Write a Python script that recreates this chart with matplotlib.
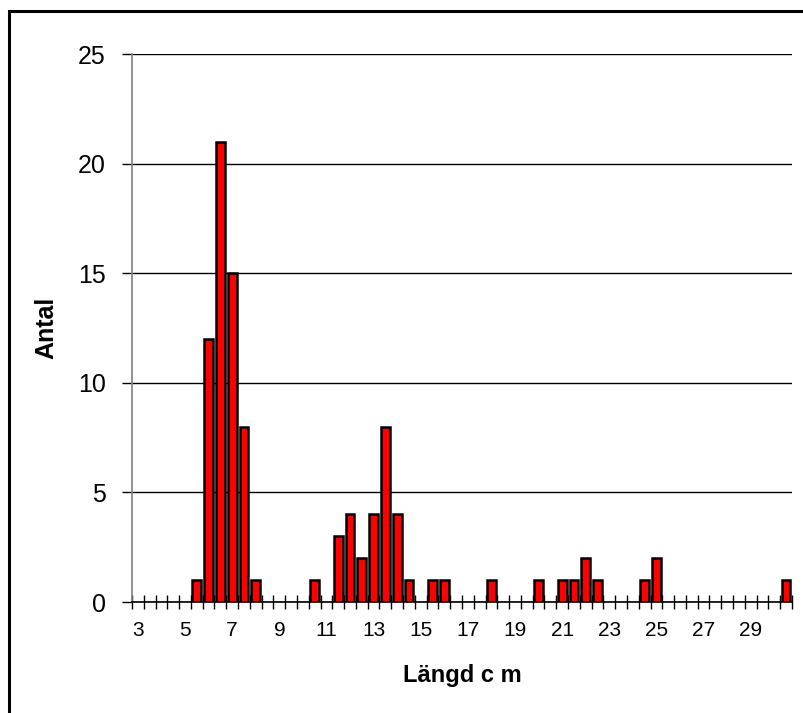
import numpy as np
import matplotlib.pyplot as plt
from matplotlib.patches import Rectangle

# length classes (cm) and counts
lengths = [5.5, 6, 6.5, 7, 7.5, 8, 10.5, 11.5, 12, 12.5, 13, 13.5, 14, 14.5,
           15.5, 16, 18, 20, 21, 21.5, 22, 22.5, 24.5, 25, 30.5]
counts = [1, 12, 21, 15, 8, 1, 1, 3, 4, 2, 4, 8, 4, 1,
          1, 1, 1, 1, 1, 1, 2, 1, 1, 2, 1]
xlabels = list(range(3, 30, 2))

plt.rcParams['font.family'] = ['Liberation Sans', 'DejaVu Sans']

fig = plt.figure(figsize=(8.04, 7.13), dpi=100)
# outer chart frame (cut off at right and bottom)
fig.patches.append(Rectangle((9 / 804, -0.1), 1.2, 1 - 11 / 713 + 0.1,
                             transform=fig.transFigure, fill=False,
                             edgecolor='black', linewidth=2.2))

ax = fig.add_axes([132 / 804, 1 - 602 / 713, 660 / 804, 548 / 713])
ax.set_xlim(2.75, 30.75)
ax.set_ylim(0, 25)

ax.bar(lengths, counts, width=0.37, color='#ff0000', edgecolor='black',
       linewidth=1.8, zorder=3)

for s in ['top', 'right']:
    ax.spines[s].set_visible(False)
ax.spines['left'].set_color('#808080')
ax.spines['left'].set_linewidth(1.2)
ax.spines['bottom'].set_color('black')
ax.spines['bottom'].set_linewidth(1.2)

ax.set_yticks(range(0, 26, 5))
ax.yaxis.grid(True, color='black', linewidth=1.0)
ax.set_axisbelow(True)
ax.tick_params(axis='y', direction='out', length=7, width=1, color='black',
               labelsize=18, pad=12)

# category boundaries as tick marks, labels centred in the slots
ax.set_xticks(np.arange(2.75, 30.8, 0.5))
ax.set_xticklabels([])
ax.tick_params(axis='x', which='major', direction='inout', length=10,
               width=1, color='black')
ax.set_xticks(xlabels, minor=True)
ax.set_xticklabels([str(v) for v in xlabels], minor=True)
ax.tick_params(axis='x', which='minor', length=0, labelsize=15, pad=14)

ax.set_ylabel('Antal', fontsize=18, fontweight='bold', labelpad=14)
ax.set_xlabel('Längd c m', fontsize=17, fontweight='bold', va='center')
ax.xaxis.set_label_coords(0.5, -0.135)

fig.savefig('out.png', dpi=100)
